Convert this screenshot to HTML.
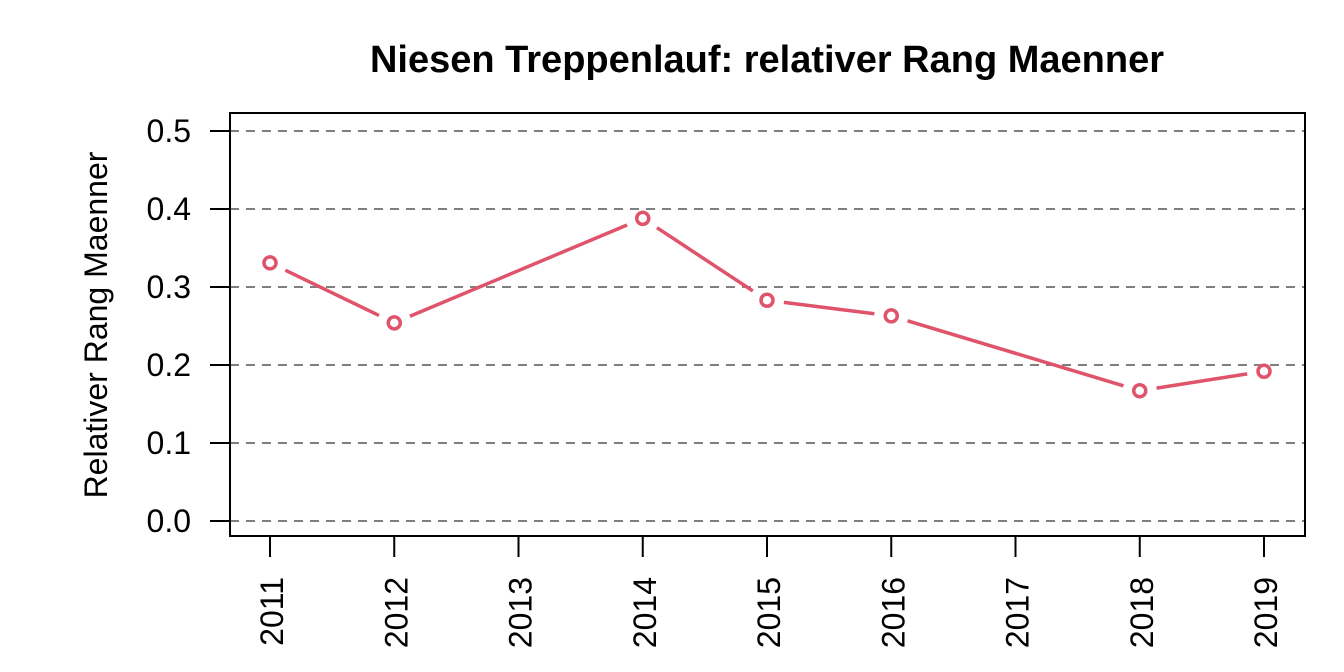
<!DOCTYPE html>
<html><head><meta charset="utf-8"><style>
html,body{margin:0;padding:0;background:#fff;width:1344px;height:672px;overflow:hidden}
text{font-family:"Liberation Sans",Arial,sans-serif}
</style></head><body>
<svg id="chart" width="1344" height="672" viewBox="0 0 1344 672">
<text x="767" y="72" font-size="38" font-weight="bold" text-anchor="middle">Niesen Treppenlauf: relativer Rang Maenner</text>
<text transform="translate(107,325) rotate(-90)" font-size="32" text-anchor="middle">Relativer Rang Maenner</text>
<g id="grid"></g><g id="axes"></g><g id="series"></g>
<rect x="230" y="113" width="1075" height="423" fill="none" stroke="#000" stroke-width="2"/>
</svg>
<script>
const years = [2011, 2012, 2014, 2015, 2016, 2018, 2019];
const values = [0.331, 0.254, 0.388, 0.283, 0.263, 0.167, 0.192];
const xTicks = [2011, 2012, 2013, 2014, 2015, 2016, 2017, 2018, 2019];
const yTicks = [0.0, 0.1, 0.2, 0.3, 0.4, 0.5];
const NS = "http://www.w3.org/2000/svg";
const xs = y => 270 + (y - 2011) * (1264 - 270) / 8;
const ys = v => 521 - v * 780;
function mk(tag, attrs, parent){const e=document.createElementNS(NS,tag);for(const k in attrs)e.setAttribute(k,attrs[k]);parent.appendChild(e);return e;}
const grid=document.getElementById('grid'), axes=document.getElementById('axes'), series=document.getElementById('series');
yTicks.forEach(v=>{
  const g=mk('line',{x1:230,x2:1305,y1:ys(v),y2:ys(v),stroke:'#808080','stroke-width':2,'stroke-dasharray':'9,7'},grid);
  
  
  const t=mk('line',{x1:210,x2:230,y1:ys(v),y2:ys(v),stroke:'#000','stroke-width':2},axes);
  
  
  const l=mk('text',{x:191,y:ys(v)+11,'font-size':32,'text-anchor':'end'},axes);
  l.textContent=v.toFixed(1);
  
  
});
xTicks.forEach(y=>{
  const t=mk('line',{x1:xs(y),x2:xs(y),y1:536,y2:557,stroke:'#000','stroke-width':2},axes);
  
  
  const l=mk('text',{transform:`translate(${xs(y)+13},577) rotate(-90)`,'font-size':32,'text-anchor':'end'},axes);
  l.textContent=y;
  
  
});
const col='#DF536B', gap=17;
for(let i=0;i<years.length-1;i++){
  const x1=xs(years[i]),y1=ys(values[i]),x2=xs(years[i+1]),y2=ys(values[i+1]);
  const dx=x2-x1,dy=y2-y1,d=Math.hypot(dx,dy),ux=dx/d,uy=dy/d;
  const s=mk('line',{x1:x1+ux*gap,y1:y1+uy*gap,x2:x2-ux*gap,y2:y2-uy*gap,stroke:col,'stroke-width':3.5},series);
  
  
}
years.forEach((y,i)=>{
  const c=mk('circle',{cx:xs(y),cy:ys(values[i]),r:6,fill:'none',stroke:col,'stroke-width':3.5},series);
  
  
});
</script>
</body></html>
